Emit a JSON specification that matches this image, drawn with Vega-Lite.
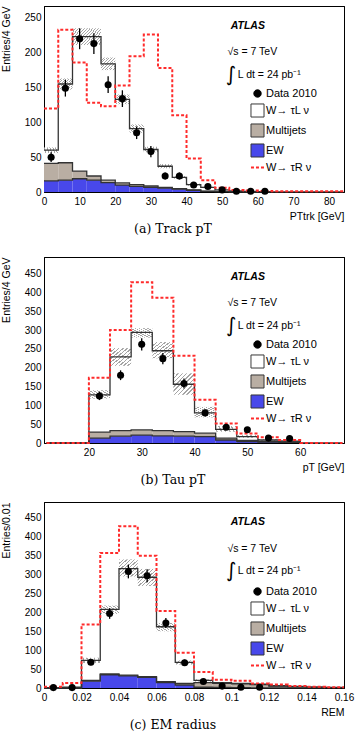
{
"$schema": "https://vega.github.io/schema/vega-lite/v6.json",
"padding": {"left": 0, "top": 5, "right": 0, "bottom": 0},
"spacing": 17,
"resolve": {"scale": {"fill": "independent", "stroke": "independent", "strokeDash": "independent"}},
"config": {
 "font": "Liberation Sans",
 "view": {"stroke": "black", "strokeWidth": 1},
 "axis": {"labelFont": "Liberation Sans", "labelFontSize": 10, "labelColor": "black", "titleFont": "Liberation Sans", "titleFontSize": 10.5, "titleFontWeight": "normal", "titleColor": "black", "domainColor": "black", "tickColor": "black", "tickWidth": 1, "tickSize": 0, "labelOverlap": false, "labelFlush": false, "grid": false, "titleAnchor": "end"},
 "axisX": {"labelPadding": 4, "titlePadding": 5},
 "axisY": {"labelPadding": 3, "titlePadding": 13},
 "legend": {"orient": "none", "legendX": 208, "legendY": 82, "symbolSize": 170, "labelFont": "Liberation Sans", "labelFontSize": 11, "labelColor": "black", "rowPadding": 1, "labelOffset": 3, "padding": 0}
},
"datasets": {
 "ha": [
  {"s":"EW","a":0,"b":4,"y0":0,"y":16},{"s":"EW","a":4,"b":8,"y0":0,"y":17},{"s":"EW","a":8,"b":12,"y0":0,"y":19},{"s":"EW","a":12,"b":16,"y0":0,"y":17},{"s":"EW","a":16,"b":20,"y0":0,"y":13.5},{"s":"EW","a":20,"b":24,"y0":0,"y":10},{"s":"EW","a":24,"b":28,"y0":0,"y":8},{"s":"EW","a":28,"b":32,"y0":0,"y":6.5},{"s":"EW","a":32,"b":36,"y0":0,"y":5.5},{"s":"EW","a":36,"b":40,"y0":0,"y":4},{"s":"EW","a":40,"b":44,"y0":0,"y":2.5},{"s":"EW","a":44,"b":48,"y0":0,"y":1},{"s":"EW","a":48,"b":52,"y0":0,"y":0.5},{"s":"EW","a":52,"b":56,"y0":0,"y":0.2},{"s":"EW","a":56,"b":60,"y0":0,"y":0.1},{"s":"EW","a":60,"b":60,"y0":0,"y":0},
  {"s":"Multijets","a":0,"b":4,"y0":16,"y":41},{"s":"Multijets","a":4,"b":8,"y0":17,"y":42},{"s":"Multijets","a":8,"b":12,"y0":19,"y":30},{"s":"Multijets","a":12,"b":16,"y0":17,"y":23},{"s":"Multijets","a":16,"b":20,"y0":13.5,"y":17},{"s":"Multijets","a":20,"b":24,"y0":10,"y":13},{"s":"Multijets","a":24,"b":28,"y0":8,"y":10.5},{"s":"Multijets","a":28,"b":32,"y0":6.5,"y":8.6},{"s":"Multijets","a":32,"b":36,"y0":5.5,"y":6.5},{"s":"Multijets","a":36,"b":40,"y0":4,"y":4.8},{"s":"Multijets","a":40,"b":44,"y0":2.5,"y":3},{"s":"Multijets","a":44,"b":48,"y0":1,"y":1.4},{"s":"Multijets","a":48,"b":52,"y0":0.5,"y":0.8},{"s":"Multijets","a":52,"b":56,"y0":0.2,"y":0.4},{"s":"Multijets","a":56,"b":60,"y0":0.1,"y":0.2},{"s":"Multijets","a":60,"b":64,"y0":0,"y":0.1},{"s":"Multijets","a":64,"b":64,"y0":0,"y":0},
  {"s":"W→ τL ν","a":0,"b":4,"y0":41,"y":60},{"s":"W→ τL ν","a":4,"b":8,"y0":42,"y":155},{"s":"W→ τL ν","a":8,"b":12,"y0":30,"y":223},{"s":"W→ τL ν","a":12,"b":16,"y0":23,"y":223},{"s":"W→ τL ν","a":16,"b":20,"y0":17,"y":184},{"s":"W→ τL ν","a":20,"b":24,"y0":13,"y":133},{"s":"W→ τL ν","a":24,"b":28,"y0":10.5,"y":91},{"s":"W→ τL ν","a":28,"b":32,"y0":8.6,"y":61},{"s":"W→ τL ν","a":32,"b":36,"y0":6.5,"y":37},{"s":"W→ τL ν","a":36,"b":40,"y0":4.8,"y":21},{"s":"W→ τL ν","a":40,"b":44,"y0":3,"y":10.5},{"s":"W→ τL ν","a":44,"b":48,"y0":1.4,"y":6.5},{"s":"W→ τL ν","a":48,"b":52,"y0":0.8,"y":3},{"s":"W→ τL ν","a":52,"b":56,"y0":0.4,"y":1.5},{"s":"W→ τL ν","a":56,"b":60,"y0":0.2,"y":1},{"s":"W→ τL ν","a":60,"b":64,"y0":0.1,"y":0.5},{"s":"W→ τL ν","a":64,"b":68,"y0":0,"y":0.3},{"s":"W→ τL ν","a":68,"b":72,"y0":0,"y":0.2},{"s":"W→ τL ν","a":72,"b":76,"y0":0,"y":0.1},{"s":"W→ τL ν","a":76,"b":80,"y0":0,"y":0.1},{"s":"W→ τL ν","a":80,"b":84,"y0":0,"y":0.1},{"s":"W→ τL ν","a":84,"b":84,"y0":0,"y":0.1},
  {"s":"W→ τR ν","a":0,"b":4,"y0":0,"y":120},{"s":"W→ τR ν","a":4,"b":8,"y0":0,"y":233},{"s":"W→ τR ν","a":8,"b":12,"y0":0,"y":186},{"s":"W→ τR ν","a":12,"b":16,"y0":0,"y":128},{"s":"W→ τR ν","a":16,"b":20,"y0":0,"y":123},{"s":"W→ τR ν","a":20,"b":24,"y0":0,"y":153},{"s":"W→ τR ν","a":24,"b":28,"y0":0,"y":195},{"s":"W→ τR ν","a":28,"b":32,"y0":0,"y":226},{"s":"W→ τR ν","a":32,"b":36,"y0":0,"y":178},{"s":"W→ τR ν","a":36,"b":40,"y0":0,"y":110},{"s":"W→ τR ν","a":40,"b":44,"y0":0,"y":48},{"s":"W→ τR ν","a":44,"b":48,"y0":0,"y":17},{"s":"W→ τR ν","a":48,"b":52,"y0":0,"y":6},{"s":"W→ τR ν","a":52,"b":56,"y0":0,"y":3},{"s":"W→ τR ν","a":56,"b":60,"y0":0,"y":2},{"s":"W→ τR ν","a":60,"b":64,"y0":0,"y":1.5},{"s":"W→ τR ν","a":64,"b":68,"y0":0,"y":1.2},{"s":"W→ τR ν","a":68,"b":72,"y0":0,"y":1},{"s":"W→ τR ν","a":72,"b":76,"y0":0,"y":1},{"s":"W→ τR ν","a":76,"b":80,"y0":0,"y":1},{"s":"W→ τR ν","a":80,"b":84,"y0":0,"y":1},{"s":"W→ τR ν","a":84,"b":84,"y0":0,"y":1}
 ],
 "ba": [
  {"a":0,"b":4,"lo":56,"hi":64},{"a":4,"b":8,"lo":147,"hi":163},{"a":8,"b":12,"lo":211,"hi":235},{"a":12,"b":16,"lo":211,"hi":235},{"a":16,"b":20,"lo":175,"hi":193},{"a":20,"b":24,"lo":126,"hi":140},{"a":24,"b":28,"lo":85,"hi":97},{"a":28,"b":32,"lo":57,"hi":65},{"a":32,"b":36,"lo":34,"hi":40},{"a":36,"b":40,"lo":19,"hi":23},{"a":40,"b":44,"lo":9,"hi":12},{"a":44,"b":48,"lo":5.5,"hi":7.5}
 ],
 "pa": [
  {"c":2,"v":50,"lo":43,"hi":57},{"c":6,"v":149,"lo":137,"hi":161},{"c":10,"v":220,"lo":205,"hi":235},{"c":14,"v":213,"lo":198,"hi":228},{"c":18,"v":154,"lo":142,"hi":166},{"c":22,"v":134,"lo":122,"hi":146},{"c":26,"v":85,"lo":76,"hi":94},{"c":30,"v":58,"lo":50,"hi":66},{"c":34,"v":23,"lo":18,"hi":28},{"c":38,"v":23,"lo":18,"hi":28},{"c":42,"v":10,"lo":7,"hi":13},{"c":46,"v":8,"lo":5,"hi":11},{"c":50,"v":3,"lo":1.3,"hi":4.7},{"c":54,"v":1,"lo":0,"hi":2},{"c":58,"v":1,"lo":0,"hi":2},{"c":62,"v":1,"lo":0,"hi":2}
 ],
 "hb": [
  {"s":"EW","a":12,"b":16,"y0":0,"y":0},{"s":"EW","a":16,"b":20,"y0":0,"y":0},{"s":"EW","a":20,"b":24,"y0":0,"y":13},{"s":"EW","a":24,"b":28,"y0":0,"y":18},{"s":"EW","a":28,"b":32,"y0":0,"y":21},{"s":"EW","a":32,"b":36,"y0":0,"y":19},{"s":"EW","a":36,"b":40,"y0":0,"y":18},{"s":"EW","a":40,"b":44,"y0":0,"y":17},{"s":"EW","a":44,"b":48,"y0":0,"y":8},{"s":"EW","a":48,"b":52,"y0":0,"y":4},{"s":"EW","a":52,"b":56,"y0":0,"y":2.5},{"s":"EW","a":56,"b":60,"y0":0,"y":1.5},{"s":"EW","a":60,"b":60,"y0":0,"y":0},
  {"s":"Multijets","a":12,"b":16,"y0":0,"y":0},{"s":"Multijets","a":16,"b":20,"y0":0,"y":0},{"s":"Multijets","a":20,"b":24,"y0":13,"y":29},{"s":"Multijets","a":24,"b":28,"y0":18,"y":33},{"s":"Multijets","a":28,"b":32,"y0":21,"y":35},{"s":"Multijets","a":32,"b":36,"y0":19,"y":33},{"s":"Multijets","a":36,"b":40,"y0":18,"y":30},{"s":"Multijets","a":40,"b":44,"y0":17,"y":26},{"s":"Multijets","a":44,"b":48,"y0":8,"y":13},{"s":"Multijets","a":48,"b":52,"y0":4,"y":7},{"s":"Multijets","a":52,"b":56,"y0":2.5,"y":4},{"s":"Multijets","a":56,"b":60,"y0":1.5,"y":3},{"s":"Multijets","a":60,"b":60,"y0":0,"y":0},
  {"s":"W→ τL ν","a":12,"b":16,"y0":0,"y":0},{"s":"W→ τL ν","a":16,"b":20,"y0":0,"y":0},{"s":"W→ τL ν","a":20,"b":24,"y0":29,"y":128},{"s":"W→ τL ν","a":24,"b":28,"y0":33,"y":229},{"s":"W→ τL ν","a":28,"b":32,"y0":35,"y":294},{"s":"W→ τL ν","a":32,"b":36,"y0":33,"y":245},{"s":"W→ τL ν","a":36,"b":40,"y0":30,"y":156},{"s":"W→ τL ν","a":40,"b":44,"y0":26,"y":80},{"s":"W→ τL ν","a":44,"b":48,"y0":13,"y":36},{"s":"W→ τL ν","a":48,"b":52,"y0":7,"y":17},{"s":"W→ τL ν","a":52,"b":56,"y0":4,"y":8},{"s":"W→ τL ν","a":56,"b":60,"y0":3,"y":5},{"s":"W→ τL ν","a":60,"b":64,"y0":0,"y":0},{"s":"W→ τL ν","a":64,"b":68,"y0":0,"y":0},{"s":"W→ τL ν","a":68,"b":68,"y0":0,"y":0},
  {"s":"W→ τR ν","a":12,"b":16,"y0":0,"y":0},{"s":"W→ τR ν","a":16,"b":20,"y0":0,"y":0},{"s":"W→ τR ν","a":20,"b":24,"y0":0,"y":173},{"s":"W→ τR ν","a":24,"b":28,"y0":0,"y":300},{"s":"W→ τR ν","a":28,"b":32,"y0":0,"y":427},{"s":"W→ τR ν","a":32,"b":36,"y0":0,"y":386},{"s":"W→ τR ν","a":36,"b":40,"y0":0,"y":232},{"s":"W→ τR ν","a":40,"b":44,"y0":0,"y":115},{"s":"W→ τR ν","a":44,"b":48,"y0":0,"y":52},{"s":"W→ τR ν","a":48,"b":52,"y0":0,"y":25},{"s":"W→ τR ν","a":52,"b":56,"y0":0,"y":15},{"s":"W→ τR ν","a":56,"b":60,"y0":0,"y":8},{"s":"W→ τR ν","a":60,"b":64,"y0":0,"y":0},{"s":"W→ τR ν","a":64,"b":68,"y0":0,"y":0},{"s":"W→ τR ν","a":68,"b":68,"y0":0,"y":0}
 ],
 "bb": [
  {"a":20,"b":24,"lo":118,"hi":140},{"a":24,"b":28,"lo":205,"hi":252},{"a":28,"b":32,"lo":280,"hi":305},{"a":32,"b":36,"lo":225,"hi":268},{"a":36,"b":40,"lo":128,"hi":185},{"a":40,"b":44,"lo":68,"hi":96},{"a":44,"b":48,"lo":30,"hi":45},{"a":48,"b":52,"lo":14,"hi":21},{"a":52,"b":56,"lo":6,"hi":10},{"a":56,"b":60,"lo":3,"hi":7}
 ],
 "pb": [
  {"c":22,"v":125,"lo":114,"hi":136},{"c":26,"v":180,"lo":167,"hi":193},{"c":30,"v":262,"lo":246,"hi":278},{"c":34,"v":224,"lo":209,"hi":239},{"c":38,"v":158,"lo":145,"hi":171},{"c":42,"v":80,"lo":71,"hi":89},{"c":46,"v":42,"lo":36,"hi":48},{"c":50,"v":35,"lo":29,"hi":41},{"c":54,"v":13,"lo":9,"hi":17},{"c":58,"v":12,"lo":8.5,"hi":15.5}
 ],
 "hc": [
  {"s":"EW","a":0,"b":0.01,"y0":0,"y":0},{"s":"EW","a":0.01,"b":0.02,"y0":0,"y":0},{"s":"EW","a":0.02,"b":0.03,"y0":0,"y":18},{"s":"EW","a":0.03,"b":0.04,"y0":0,"y":35},{"s":"EW","a":0.04,"b":0.05,"y0":0,"y":32},{"s":"EW","a":0.05,"b":0.06,"y0":0,"y":28},{"s":"EW","a":0.06,"b":0.07,"y0":0,"y":14},{"s":"EW","a":0.07,"b":0.08,"y0":0,"y":8},{"s":"EW","a":0.08,"b":0.09,"y0":0,"y":2},{"s":"EW","a":0.09,"b":0.1,"y0":0,"y":1.5},{"s":"EW","a":0.1,"b":0.11,"y0":0,"y":1},{"s":"EW","a":0.11,"b":0.12,"y0":0,"y":0.5},{"s":"EW","a":0.12,"b":0.13,"y0":0,"y":0.3},{"s":"EW","a":0.13,"b":0.14,"y0":0,"y":0.2},{"s":"EW","a":0.14,"b":0.15,"y0":0,"y":0.1},{"s":"EW","a":0.15,"b":0.15,"y0":0,"y":0},
  {"s":"Multijets","a":0,"b":0.01,"y0":0,"y":0.5},{"s":"Multijets","a":0.01,"b":0.02,"y0":0,"y":1},{"s":"Multijets","a":0.02,"b":0.03,"y0":18,"y":20},{"s":"Multijets","a":0.03,"b":0.04,"y0":35,"y":37},{"s":"Multijets","a":0.04,"b":0.05,"y0":32,"y":34},{"s":"Multijets","a":0.05,"b":0.06,"y0":28,"y":30},{"s":"Multijets","a":0.06,"b":0.07,"y0":14,"y":17},{"s":"Multijets","a":0.07,"b":0.08,"y0":8,"y":12},{"s":"Multijets","a":0.08,"b":0.09,"y0":2,"y":14},{"s":"Multijets","a":0.09,"b":0.1,"y0":1.5,"y":12},{"s":"Multijets","a":0.1,"b":0.11,"y0":1,"y":11},{"s":"Multijets","a":0.11,"b":0.12,"y0":0.5,"y":9},{"s":"Multijets","a":0.12,"b":0.13,"y0":0.3,"y":5},{"s":"Multijets","a":0.13,"b":0.14,"y0":0.2,"y":3.5},{"s":"Multijets","a":0.14,"b":0.15,"y0":0.1,"y":2},{"s":"Multijets","a":0.15,"b":0.16,"y0":0,"y":1},{"s":"Multijets","a":0.16,"b":0.16,"y0":0,"y":1},
  {"s":"W→ τL ν","a":0,"b":0.01,"y0":0.5,"y":1},{"s":"W→ τL ν","a":0.01,"b":0.02,"y0":1,"y":2},{"s":"W→ τL ν","a":0.02,"b":0.03,"y0":20,"y":73},{"s":"W→ τL ν","a":0.03,"b":0.04,"y0":37,"y":208},{"s":"W→ τL ν","a":0.04,"b":0.05,"y0":34,"y":316},{"s":"W→ τL ν","a":0.05,"b":0.06,"y0":30,"y":293},{"s":"W→ τL ν","a":0.06,"b":0.07,"y0":17,"y":162},{"s":"W→ τL ν","a":0.07,"b":0.08,"y0":12,"y":68},{"s":"W→ τL ν","a":0.08,"b":0.09,"y0":14,"y":20},{"s":"W→ τL ν","a":0.09,"b":0.1,"y0":12,"y":14},{"s":"W→ τL ν","a":0.1,"b":0.11,"y0":11,"y":12},{"s":"W→ τL ν","a":0.11,"b":0.12,"y0":9,"y":10},{"s":"W→ τL ν","a":0.12,"b":0.13,"y0":5,"y":6},{"s":"W→ τL ν","a":0.13,"b":0.14,"y0":3.5,"y":4},{"s":"W→ τL ν","a":0.14,"b":0.15,"y0":2,"y":2.5},{"s":"W→ τL ν","a":0.15,"b":0.16,"y0":1,"y":1.5},{"s":"W→ τL ν","a":0.16,"b":0.16,"y0":1,"y":1.5},
  {"s":"W→ τR ν","a":0,"b":0.01,"y0":0,"y":3},{"s":"W→ τR ν","a":0.01,"b":0.02,"y0":0,"y":13},{"s":"W→ τR ν","a":0.02,"b":0.03,"y0":0,"y":168},{"s":"W→ τR ν","a":0.03,"b":0.04,"y0":0,"y":357},{"s":"W→ τR ν","a":0.04,"b":0.05,"y0":0,"y":428},{"s":"W→ τR ν","a":0.05,"b":0.06,"y0":0,"y":350},{"s":"W→ τR ν","a":0.06,"b":0.07,"y0":0,"y":204},{"s":"W→ τR ν","a":0.07,"b":0.08,"y0":0,"y":93},{"s":"W→ τR ν","a":0.08,"b":0.09,"y0":0,"y":42},{"s":"W→ τR ν","a":0.09,"b":0.1,"y0":0,"y":22},{"s":"W→ τR ν","a":0.1,"b":0.11,"y0":0,"y":19},{"s":"W→ τR ν","a":0.11,"b":0.12,"y0":0,"y":12},{"s":"W→ τR ν","a":0.12,"b":0.13,"y0":0,"y":9},{"s":"W→ τR ν","a":0.13,"b":0.14,"y0":0,"y":5},{"s":"W→ τR ν","a":0.14,"b":0.15,"y0":0,"y":3},{"s":"W→ τR ν","a":0.15,"b":0.16,"y0":0,"y":2},{"s":"W→ τR ν","a":0.16,"b":0.16,"y0":0,"y":2}
 ],
 "bc": [
  {"a":0.02,"b":0.03,"lo":66,"hi":80},{"a":0.03,"b":0.04,"lo":196,"hi":218},{"a":0.04,"b":0.05,"lo":295,"hi":340},{"a":0.05,"b":0.06,"lo":270,"hi":315},{"a":0.06,"b":0.07,"lo":150,"hi":172},{"a":0.07,"b":0.08,"lo":62,"hi":73},{"a":0.08,"b":0.09,"lo":17,"hi":23}
 ],
 "pc": [
  {"c":0.005,"v":1,"lo":0,"hi":2},{"c":0.015,"v":1,"lo":0,"hi":2},{"c":0.025,"v":68,"lo":60,"hi":76},{"c":0.035,"v":197,"lo":183,"hi":211},{"c":0.045,"v":308,"lo":290,"hi":326},{"c":0.055,"v":297,"lo":280,"hi":314},{"c":0.065,"v":172,"lo":159,"hi":185},{"c":0.075,"v":67,"lo":59,"hi":75},{"c":0.085,"v":17,"lo":13,"hi":21},{"c":0.095,"v":5,"lo":3,"hi":7},{"c":0.105,"v":2,"lo":0.6,"hi":3.4},{"c":0.115,"v":2,"lo":0.6,"hi":3.4}
 ]
},
"vconcat": [
 {
  "width": 300, "height": 186,
  "title": {"text": "(a) Track pT", "orient": "bottom", "font": "DejaVu Serif", "fontSize": 12.5, "fontWeight": "normal", "color": "black", "offset": 1, "dx": -21},
  "layer": [
   {"data": {"name": "ha"}, "transform": [{"filter": {"field": "s", "oneOf": ["EW", "Multijets", "W→ τL ν"]}}],
    "mark": {"type": "rect", "strokeWidth": 0},
    "encoding": {
     "x": {"field": "a", "type": "quantitative", "scale": {"domain": [0, 84.2], "nice": false, "zero": false},
       "axis": {"orient": "bottom", "title": "PTtrk [GeV]", "values": [0,2,4,6,8,10,12,14,16,18,20,22,24,26,28,30,32,34,36,38,40,42,44,46,48,50,52,54,56,58,60,62,64,66,68,70,72,74,76,78,80,82,84],
        "labelExpr": "datum.value % 10 == 0 ? datum.label : ''",
        "encode": {"ticks": {"update": {"y2": {"signal": "datum.value % 10 == 0 ? -7 : -3.5"}}}}}},
     "x2": {"field": "b"},
     "y": {"field": "y0", "type": "quantitative", "scale": {"domain": [0, 267], "nice": false, "zero": false},
       "axis": {"orient": "left", "title": "Entries/4 GeV", "values": [0,10,20,30,40,50,60,70,80,90,100,110,120,130,140,150,160,170,180,190,200,210,220,230,240,250,260],
        "labelExpr": "datum.value % 50 == 0 ? datum.label : ''",
        "encode": {"ticks": {"update": {"x2": {"signal": "datum.value % 50 == 0 ? 8 : 4"}}}}}},
     "y2": {"field": "y"},
     "fill": {"field": "s", "type": "nominal",
       "scale": {"domain": ["Data 2010", "W→ τL ν", "Multijets", "EW", "W→ τR ν"], "range": ["black", "white", "#b9aea3", "#4848ea", "transparent"]},
       "legend": {"title": null, "orient": "none", "legendX": 208, "legendY": 82,
        "encode": {"symbols": {"update": {
         "shape": {"signal": "datum.value == 'Data 2010' ? 'circle' : datum.value == 'W→ τR ν' ? 'stroke' : 'square'"},
         "size": {"signal": "datum.value == 'Data 2010' ? 55 : 170"},
         "stroke": {"signal": "datum.value == 'W→ τR ν' ? '#ff2b2b' : 'black'"},
         "strokeDash": {"signal": "datum.value == 'W→ τR ν' ? [3,2] : [1,0]"},
         "strokeWidth": {"signal": "datum.value == 'W→ τR ν' ? 2 : 1"}}}}}}
    }},
   {"data": {"name": "ba"},
    "mark": {"type": "rect", "fill": {"gradient": "linear", "x1": 0, "y1": 0, "x2": 1, "y2": 1, "stops": [{"offset": 0, "color": "#a4a4a4"}, {"offset": 0.035, "color": "#a4a4a4"}, {"offset": 0.035, "color": "white"}, {"offset": 0.1, "color": "white"}, {"offset": 0.1, "color": "#a4a4a4"}, {"offset": 0.135, "color": "#a4a4a4"}, {"offset": 0.135, "color": "white"}, {"offset": 0.2, "color": "white"}, {"offset": 0.2, "color": "#a4a4a4"}, {"offset": 0.235, "color": "#a4a4a4"}, {"offset": 0.235, "color": "white"}, {"offset": 0.3, "color": "white"}, {"offset": 0.3, "color": "#a4a4a4"}, {"offset": 0.335, "color": "#a4a4a4"}, {"offset": 0.335, "color": "white"}, {"offset": 0.4, "color": "white"}, {"offset": 0.4, "color": "#a4a4a4"}, {"offset": 0.435, "color": "#a4a4a4"}, {"offset": 0.435, "color": "white"}, {"offset": 0.5, "color": "white"}, {"offset": 0.5, "color": "#a4a4a4"}, {"offset": 0.535, "color": "#a4a4a4"}, {"offset": 0.535, "color": "white"}, {"offset": 0.6, "color": "white"}, {"offset": 0.6, "color": "#a4a4a4"}, {"offset": 0.635, "color": "#a4a4a4"}, {"offset": 0.635, "color": "white"}, {"offset": 0.7, "color": "white"}, {"offset": 0.7, "color": "#a4a4a4"}, {"offset": 0.735, "color": "#a4a4a4"}, {"offset": 0.735, "color": "white"}, {"offset": 0.8, "color": "white"}, {"offset": 0.8, "color": "#a4a4a4"}, {"offset": 0.835, "color": "#a4a4a4"}, {"offset": 0.835, "color": "white"}, {"offset": 0.9, "color": "white"}, {"offset": 0.9, "color": "#a4a4a4"}, {"offset": 0.935, "color": "#a4a4a4"}, {"offset": 0.935, "color": "white"}, {"offset": 1, "color": "white"}]}},
    "encoding": {"x": {"field": "a", "type": "quantitative", "axis": null}, "x2": {"field": "b"}, "y": {"field": "lo", "type": "quantitative", "axis": null}, "y2": {"field": "hi"}}},
   {"data": {"name": "ha"},
    "mark": {"type": "line", "interpolate": "step-after"},
    "encoding": {
     "x": {"field": "a", "type": "quantitative",
       "axis": {"orient": "top", "title": null, "labels": false, "values": [0,2,4,6,8,10,12,14,16,18,20,22,24,26,28,30,32,34,36,38,40,42,44,46,48,50,52,54,56,58,60,62,64,66,68,70,72,74,76,78,80,82,84],
        "encode": {"ticks": {"update": {"y2": {"signal": "datum.value % 10 == 0 ? 7 : 3.5"}}}}}},
     "y": {"field": "y", "type": "quantitative",
       "axis": {"orient": "right", "title": null, "labels": false, "values": [0,10,20,30,40,50,60,70,80,90,100,110,120,130,140,150,160,170,180,190,200,210,220,230,240,250,260],
        "encode": {"ticks": {"update": {"x2": {"signal": "datum.value % 50 == 0 ? -8 : -4"}}}}}},
     "stroke": {"field": "s", "type": "nominal", "scale": {"domain": ["Data 2010", "W→ τL ν", "Multijets", "EW", "W→ τR ν"], "range": ["black", "#333333", "#333333", "#333333", "#ff2b2b"]}, "legend": null},
     "strokeDash": {"field": "s", "type": "nominal", "scale": {"domain": ["Data 2010", "W→ τL ν", "Multijets", "EW", "W→ τR ν"], "range": [[1,0],[1,0],[1,0],[1,0],[3,2]]}, "legend": null},
     "strokeWidth": {"condition": {"test": "datum.s == 'W→ τR ν'", "value": 2}, "value": 1.3}
    }},
   {"data": {"name": "pa"}, "mark": {"type": "rule", "color": "black", "strokeWidth": 1.3},
    "encoding": {"x": {"field": "c", "type": "quantitative", "axis": null}, "y": {"field": "lo", "type": "quantitative", "axis": null}, "y2": {"field": "hi"}}},
   {"data": {"name": "pa"}, "mark": {"type": "point", "filled": true, "color": "black", "size": 50, "opacity": 1},
    "encoding": {"x": {"field": "c", "type": "quantitative", "axis": null}, "y": {"field": "v", "type": "quantitative", "axis": null}}},
   {"data": {"values": [{"t": "ATLAS"}]}, "mark": {"type": "text", "align": "left", "baseline": "middle", "font": "Liberation Sans", "fontSize": 10.5, "fontWeight": "bold", "fontStyle": "italic", "color": "black"},
    "encoding": {"x": {"datum": 52.4, "type": "quantitative", "axis": null}, "y": {"datum": 238.3, "type": "quantitative", "axis": null}, "text": {"field": "t"}}},
   {"data": {"values": [{"t": "√s = 7 TeV"}]}, "mark": {"type": "text", "align": "left", "baseline": "middle", "font": "Liberation Sans", "fontSize": 10.5, "color": "black"},
    "encoding": {"x": {"datum": 51.5, "type": "quantitative", "axis": null}, "y": {"datum": 200.3, "type": "quantitative", "axis": null}, "text": {"field": "t"}}},
   {"data": {"values": [{"t": "∫"}]}, "mark": {"type": "text", "align": "center", "baseline": "middle", "font": "DejaVu Sans", "fontSize": 20, "color": "black"},
    "encoding": {"x": {"datum": 52.5, "type": "quantitative", "axis": null}, "y": {"datum": 168, "type": "quantitative", "axis": null}, "text": {"field": "t"}}},
   {"data": {"values": [{"t": "L dt = 24 pb⁻¹"}]}, "mark": {"type": "text", "align": "left", "baseline": "middle", "font": "Liberation Sans", "fontSize": 10.5, "color": "black"},
    "encoding": {"x": {"datum": 54.4, "type": "quantitative", "axis": null}, "y": {"datum": 168, "type": "quantitative", "axis": null}, "text": {"field": "t"}}}
  ]
 },
 {
 "spacing": 10,
 "resolve": {"scale": {"fill": "independent", "stroke": "independent", "strokeDash": "independent"}},
 "vconcat": [
 {
  "width": 300, "height": 186,
  "title": {"text": "(b) Tau pT", "orient": "bottom", "font": "DejaVu Serif", "fontSize": 12.5, "fontWeight": "normal", "color": "black", "offset": 1, "dx": -21},
  "layer": [
   {"data": {"name": "hb"}, "transform": [{"filter": {"field": "s", "oneOf": ["EW", "Multijets", "W→ τL ν"]}}],
    "mark": {"type": "rect", "strokeWidth": 0},
    "encoding": {
     "x": {"field": "a", "type": "quantitative", "scale": {"domain": [11.5, 68.3], "nice": false, "zero": false},
       "axis": {"orient": "bottom", "title": "pT [GeV]", "values": [12,14,16,18,20,22,24,26,28,30,32,34,36,38,40,42,44,46,48,50,52,54,56,58,60,62,64,66,68],
        "labelExpr": "datum.value % 10 == 0 ? datum.label : ''",
        "encode": {"ticks": {"update": {"y2": {"signal": "datum.value % 10 == 0 ? -7 : -3.5"}}}}}},
     "x2": {"field": "b"},
     "y": {"field": "y0", "type": "quantitative", "scale": {"domain": [0, 494], "nice": false, "zero": false},
       "axis": {"orient": "left", "title": "Entries/4 GeV", "values": [0,10,20,30,40,50,60,70,80,90,100,110,120,130,140,150,160,170,180,190,200,210,220,230,240,250,260,270,280,290,300,310,320,330,340,350,360,370,380,390,400,410,420,430,440,450,460,470,480,490],
        "labelExpr": "datum.value % 50 == 0 ? datum.label : ''",
        "encode": {"ticks": {"update": {"x2": {"signal": "datum.value % 50 == 0 ? 8 : 4"}}}}}},
     "y2": {"field": "y"},
     "fill": {"field": "s", "type": "nominal",
       "scale": {"domain": ["Data 2010", "W→ τL ν", "Multijets", "EW", "W→ τR ν"], "range": ["black", "white", "#b9aea3", "#4848ea", "transparent"]},
       "legend": {"title": null, "orient": "none", "legendX": 208, "legendY": 82,
        "encode": {"symbols": {"update": {
         "shape": {"signal": "datum.value == 'Data 2010' ? 'circle' : datum.value == 'W→ τR ν' ? 'stroke' : 'square'"},
         "size": {"signal": "datum.value == 'Data 2010' ? 55 : 170"},
         "stroke": {"signal": "datum.value == 'W→ τR ν' ? '#ff2b2b' : 'black'"},
         "strokeDash": {"signal": "datum.value == 'W→ τR ν' ? [3,2] : [1,0]"},
         "strokeWidth": {"signal": "datum.value == 'W→ τR ν' ? 2 : 1"}}}}}}
    }},
   {"data": {"name": "bb"},
    "mark": {"type": "rect", "fill": {"gradient": "linear", "x1": 0, "y1": 0, "x2": 1, "y2": 1, "stops": [{"offset": 0, "color": "#a4a4a4"}, {"offset": 0.035, "color": "#a4a4a4"}, {"offset": 0.035, "color": "white"}, {"offset": 0.1, "color": "white"}, {"offset": 0.1, "color": "#a4a4a4"}, {"offset": 0.135, "color": "#a4a4a4"}, {"offset": 0.135, "color": "white"}, {"offset": 0.2, "color": "white"}, {"offset": 0.2, "color": "#a4a4a4"}, {"offset": 0.235, "color": "#a4a4a4"}, {"offset": 0.235, "color": "white"}, {"offset": 0.3, "color": "white"}, {"offset": 0.3, "color": "#a4a4a4"}, {"offset": 0.335, "color": "#a4a4a4"}, {"offset": 0.335, "color": "white"}, {"offset": 0.4, "color": "white"}, {"offset": 0.4, "color": "#a4a4a4"}, {"offset": 0.435, "color": "#a4a4a4"}, {"offset": 0.435, "color": "white"}, {"offset": 0.5, "color": "white"}, {"offset": 0.5, "color": "#a4a4a4"}, {"offset": 0.535, "color": "#a4a4a4"}, {"offset": 0.535, "color": "white"}, {"offset": 0.6, "color": "white"}, {"offset": 0.6, "color": "#a4a4a4"}, {"offset": 0.635, "color": "#a4a4a4"}, {"offset": 0.635, "color": "white"}, {"offset": 0.7, "color": "white"}, {"offset": 0.7, "color": "#a4a4a4"}, {"offset": 0.735, "color": "#a4a4a4"}, {"offset": 0.735, "color": "white"}, {"offset": 0.8, "color": "white"}, {"offset": 0.8, "color": "#a4a4a4"}, {"offset": 0.835, "color": "#a4a4a4"}, {"offset": 0.835, "color": "white"}, {"offset": 0.9, "color": "white"}, {"offset": 0.9, "color": "#a4a4a4"}, {"offset": 0.935, "color": "#a4a4a4"}, {"offset": 0.935, "color": "white"}, {"offset": 1, "color": "white"}]}},
    "encoding": {"x": {"field": "a", "type": "quantitative", "axis": null}, "x2": {"field": "b"}, "y": {"field": "lo", "type": "quantitative", "axis": null}, "y2": {"field": "hi"}}},
   {"data": {"name": "hb"},
    "mark": {"type": "line", "interpolate": "step-after"},
    "encoding": {
     "x": {"field": "a", "type": "quantitative",
       "axis": {"orient": "top", "title": null, "labels": false, "values": [12,14,16,18,20,22,24,26,28,30,32,34,36,38,40,42,44,46,48,50,52,54,56,58,60,62,64,66,68],
        "encode": {"ticks": {"update": {"y2": {"signal": "datum.value % 10 == 0 ? 7 : 3.5"}}}}}},
     "y": {"field": "y", "type": "quantitative",
       "axis": {"orient": "right", "title": null, "labels": false, "values": [0,10,20,30,40,50,60,70,80,90,100,110,120,130,140,150,160,170,180,190,200,210,220,230,240,250,260,270,280,290,300,310,320,330,340,350,360,370,380,390,400,410,420,430,440,450,460,470,480,490],
        "encode": {"ticks": {"update": {"x2": {"signal": "datum.value % 50 == 0 ? -8 : -4"}}}}}},
     "stroke": {"field": "s", "type": "nominal", "scale": {"domain": ["Data 2010", "W→ τL ν", "Multijets", "EW", "W→ τR ν"], "range": ["black", "#333333", "#333333", "#333333", "#ff2b2b"]}, "legend": null},
     "strokeDash": {"field": "s", "type": "nominal", "scale": {"domain": ["Data 2010", "W→ τL ν", "Multijets", "EW", "W→ τR ν"], "range": [[1,0],[1,0],[1,0],[1,0],[3,2]]}, "legend": null},
     "strokeWidth": {"condition": {"test": "datum.s == 'W→ τR ν'", "value": 2}, "value": 1.3}
    }},
   {"data": {"name": "pb"}, "mark": {"type": "rule", "color": "black", "strokeWidth": 1.3},
    "encoding": {"x": {"field": "c", "type": "quantitative", "axis": null}, "y": {"field": "lo", "type": "quantitative", "axis": null}, "y2": {"field": "hi"}}},
   {"data": {"name": "pb"}, "mark": {"type": "point", "filled": true, "color": "black", "size": 50, "opacity": 1},
    "encoding": {"x": {"field": "c", "type": "quantitative", "axis": null}, "y": {"field": "v", "type": "quantitative", "axis": null}}},
   {"data": {"values": [{"t": "ATLAS"}]}, "mark": {"type": "text", "align": "left", "baseline": "middle", "font": "Liberation Sans", "fontSize": 10.5, "fontWeight": "bold", "fontStyle": "italic", "color": "black"},
    "encoding": {"x": {"datum": 46.85, "type": "quantitative", "axis": null}, "y": {"datum": 441, "type": "quantitative", "axis": null}, "text": {"field": "t"}}},
   {"data": {"values": [{"t": "√s = 7 TeV"}]}, "mark": {"type": "text", "align": "left", "baseline": "middle", "font": "Liberation Sans", "fontSize": 10.5, "color": "black"},
    "encoding": {"x": {"datum": 46.22, "type": "quantitative", "axis": null}, "y": {"datum": 371, "type": "quantitative", "axis": null}, "text": {"field": "t"}}},
   {"data": {"values": [{"t": "∫"}]}, "mark": {"type": "text", "align": "center", "baseline": "middle", "font": "DejaVu Sans", "fontSize": 20, "color": "black"},
    "encoding": {"x": {"datum": 46.94, "type": "quantitative", "axis": null}, "y": {"datum": 311, "type": "quantitative", "axis": null}, "text": {"field": "t"}}},
   {"data": {"values": [{"t": "L dt = 24 pb⁻¹"}]}, "mark": {"type": "text", "align": "left", "baseline": "middle", "font": "Liberation Sans", "fontSize": 10.5, "color": "black"},
    "encoding": {"x": {"datum": 48.17, "type": "quantitative", "axis": null}, "y": {"datum": 311, "type": "quantitative", "axis": null}, "text": {"field": "t"}}}
  ]
 },
 {
  "width": 300, "height": 186,
  "title": {"text": "(c) EM radius", "orient": "bottom", "font": "DejaVu Serif", "fontSize": 12.5, "fontWeight": "normal", "color": "black", "offset": 1, "dx": -21},
  "layer": [
   {"data": {"name": "hc"}, "transform": [{"filter": {"field": "s", "oneOf": ["EW", "Multijets", "W→ τL ν"]}}],
    "mark": {"type": "rect", "strokeWidth": 0},
    "encoding": {
     "x": {"field": "a", "type": "quantitative", "scale": {"domain": [0, 0.16], "nice": false, "zero": false},
       "axis": {"orient": "bottom", "title": "REM", "values": [0,0.005,0.01,0.015,0.02,0.025,0.03,0.035,0.04,0.045,0.05,0.055,0.06,0.065,0.07,0.075,0.08,0.085,0.09,0.095,0.1,0.105,0.11,0.115,0.12,0.125,0.13,0.135,0.14,0.145,0.15,0.155,0.16],
        "labelExpr": "abs(datum.value * 50 - round(datum.value * 50)) < 0.001 ? format(datum.value, '~g') : ''",
        "encode": {"ticks": {"update": {"y2": {"signal": "abs(datum.value * 50 - round(datum.value * 50)) < 0.001 ? -7 : -3.5"}}}}}},
     "x2": {"field": "b"},
     "y": {"field": "y0", "type": "quantitative", "scale": {"domain": [0, 492], "nice": false, "zero": false},
       "axis": {"orient": "left", "title": "Entries/0.01", "values": [0,10,20,30,40,50,60,70,80,90,100,110,120,130,140,150,160,170,180,190,200,210,220,230,240,250,260,270,280,290,300,310,320,330,340,350,360,370,380,390,400,410,420,430,440,450,460,470,480,490],
        "labelExpr": "datum.value % 50 == 0 ? datum.label : ''",
        "encode": {"ticks": {"update": {"x2": {"signal": "datum.value % 50 == 0 ? 8 : 4"}}}}}},
     "y2": {"field": "y"},
     "fill": {"field": "s", "type": "nominal",
       "scale": {"domain": ["Data 2010", "W→ τL ν", "Multijets", "EW", "W→ τR ν"], "range": ["black", "white", "#b9aea3", "#4848ea", "transparent"]},
       "legend": {"title": null, "orient": "none", "legendX": 208, "legendY": 84,
        "encode": {"symbols": {"update": {
         "shape": {"signal": "datum.value == 'Data 2010' ? 'circle' : datum.value == 'W→ τR ν' ? 'stroke' : 'square'"},
         "size": {"signal": "datum.value == 'Data 2010' ? 55 : 170"},
         "stroke": {"signal": "datum.value == 'W→ τR ν' ? '#ff2b2b' : 'black'"},
         "strokeDash": {"signal": "datum.value == 'W→ τR ν' ? [3,2] : [1,0]"},
         "strokeWidth": {"signal": "datum.value == 'W→ τR ν' ? 2 : 1"}}}}}}
    }},
   {"data": {"name": "bc"},
    "mark": {"type": "rect", "fill": {"gradient": "linear", "x1": 0, "y1": 0, "x2": 1, "y2": 1, "stops": [{"offset": 0, "color": "#a4a4a4"}, {"offset": 0.035, "color": "#a4a4a4"}, {"offset": 0.035, "color": "white"}, {"offset": 0.1, "color": "white"}, {"offset": 0.1, "color": "#a4a4a4"}, {"offset": 0.135, "color": "#a4a4a4"}, {"offset": 0.135, "color": "white"}, {"offset": 0.2, "color": "white"}, {"offset": 0.2, "color": "#a4a4a4"}, {"offset": 0.235, "color": "#a4a4a4"}, {"offset": 0.235, "color": "white"}, {"offset": 0.3, "color": "white"}, {"offset": 0.3, "color": "#a4a4a4"}, {"offset": 0.335, "color": "#a4a4a4"}, {"offset": 0.335, "color": "white"}, {"offset": 0.4, "color": "white"}, {"offset": 0.4, "color": "#a4a4a4"}, {"offset": 0.435, "color": "#a4a4a4"}, {"offset": 0.435, "color": "white"}, {"offset": 0.5, "color": "white"}, {"offset": 0.5, "color": "#a4a4a4"}, {"offset": 0.535, "color": "#a4a4a4"}, {"offset": 0.535, "color": "white"}, {"offset": 0.6, "color": "white"}, {"offset": 0.6, "color": "#a4a4a4"}, {"offset": 0.635, "color": "#a4a4a4"}, {"offset": 0.635, "color": "white"}, {"offset": 0.7, "color": "white"}, {"offset": 0.7, "color": "#a4a4a4"}, {"offset": 0.735, "color": "#a4a4a4"}, {"offset": 0.735, "color": "white"}, {"offset": 0.8, "color": "white"}, {"offset": 0.8, "color": "#a4a4a4"}, {"offset": 0.835, "color": "#a4a4a4"}, {"offset": 0.835, "color": "white"}, {"offset": 0.9, "color": "white"}, {"offset": 0.9, "color": "#a4a4a4"}, {"offset": 0.935, "color": "#a4a4a4"}, {"offset": 0.935, "color": "white"}, {"offset": 1, "color": "white"}]}},
    "encoding": {"x": {"field": "a", "type": "quantitative", "axis": null}, "x2": {"field": "b"}, "y": {"field": "lo", "type": "quantitative", "axis": null}, "y2": {"field": "hi"}}},
   {"data": {"name": "hc"},
    "mark": {"type": "line", "interpolate": "step-after"},
    "encoding": {
     "x": {"field": "a", "type": "quantitative",
       "axis": {"orient": "top", "title": null, "labels": false, "values": [0,0.005,0.01,0.015,0.02,0.025,0.03,0.035,0.04,0.045,0.05,0.055,0.06,0.065,0.07,0.075,0.08,0.085,0.09,0.095,0.1,0.105,0.11,0.115,0.12,0.125,0.13,0.135,0.14,0.145,0.15,0.155,0.16],
        "encode": {"ticks": {"update": {"y2": {"signal": "abs(datum.value * 50 - round(datum.value * 50)) < 0.001 ? 7 : 3.5"}}}}}},
     "y": {"field": "y", "type": "quantitative",
       "axis": {"orient": "right", "title": null, "labels": false, "values": [0,10,20,30,40,50,60,70,80,90,100,110,120,130,140,150,160,170,180,190,200,210,220,230,240,250,260,270,280,290,300,310,320,330,340,350,360,370,380,390,400,410,420,430,440,450,460,470,480,490],
        "encode": {"ticks": {"update": {"x2": {"signal": "datum.value % 50 == 0 ? -8 : -4"}}}}}},
     "stroke": {"field": "s", "type": "nominal", "scale": {"domain": ["Data 2010", "W→ τL ν", "Multijets", "EW", "W→ τR ν"], "range": ["black", "#333333", "#333333", "#333333", "#ff2b2b"]}, "legend": null},
     "strokeDash": {"field": "s", "type": "nominal", "scale": {"domain": ["Data 2010", "W→ τL ν", "Multijets", "EW", "W→ τR ν"], "range": [[1,0],[1,0],[1,0],[1,0],[3,2]]}, "legend": null},
     "strokeWidth": {"condition": {"test": "datum.s == 'W→ τR ν'", "value": 2}, "value": 1.3}
    }},
   {"data": {"name": "pc"}, "mark": {"type": "rule", "color": "black", "strokeWidth": 1.3},
    "encoding": {"x": {"field": "c", "type": "quantitative", "axis": null}, "y": {"field": "lo", "type": "quantitative", "axis": null}, "y2": {"field": "hi"}}},
   {"data": {"name": "pc"}, "mark": {"type": "point", "filled": true, "color": "black", "size": 50, "opacity": 1},
    "encoding": {"x": {"field": "c", "type": "quantitative", "axis": null}, "y": {"field": "v", "type": "quantitative", "axis": null}}},
   {"data": {"values": [{"t": "ATLAS"}]}, "mark": {"type": "text", "align": "left", "baseline": "middle", "font": "Liberation Sans", "fontSize": 10.5, "fontWeight": "bold", "fontStyle": "italic", "color": "black"},
    "encoding": {"x": {"datum": 0.09957, "type": "quantitative", "axis": null}, "y": {"datum": 439, "type": "quantitative", "axis": null}, "text": {"field": "t"}}},
   {"data": {"values": [{"t": "√s = 7 TeV"}]}, "mark": {"type": "text", "align": "left", "baseline": "middle", "font": "Liberation Sans", "fontSize": 10.5, "color": "black"},
    "encoding": {"x": {"datum": 0.09781, "type": "quantitative", "axis": null}, "y": {"datum": 369, "type": "quantitative", "axis": null}, "text": {"field": "t"}}},
   {"data": {"values": [{"t": "∫"}]}, "mark": {"type": "text", "align": "center", "baseline": "middle", "font": "DejaVu Sans", "fontSize": 20, "color": "black"},
    "encoding": {"x": {"datum": 0.09984, "type": "quantitative", "axis": null}, "y": {"datum": 310, "type": "quantitative", "axis": null}, "text": {"field": "t"}}},
   {"data": {"values": [{"t": "L dt = 24 pb⁻¹"}]}, "mark": {"type": "text", "align": "left", "baseline": "middle", "font": "Liberation Sans", "fontSize": 10.5, "color": "black"},
    "encoding": {"x": {"datum": 0.1033, "type": "quantitative", "axis": null}, "y": {"datum": 310, "type": "quantitative", "axis": null}, "text": {"field": "t"}}}
  ]
 }
 ]
 }
]
}
